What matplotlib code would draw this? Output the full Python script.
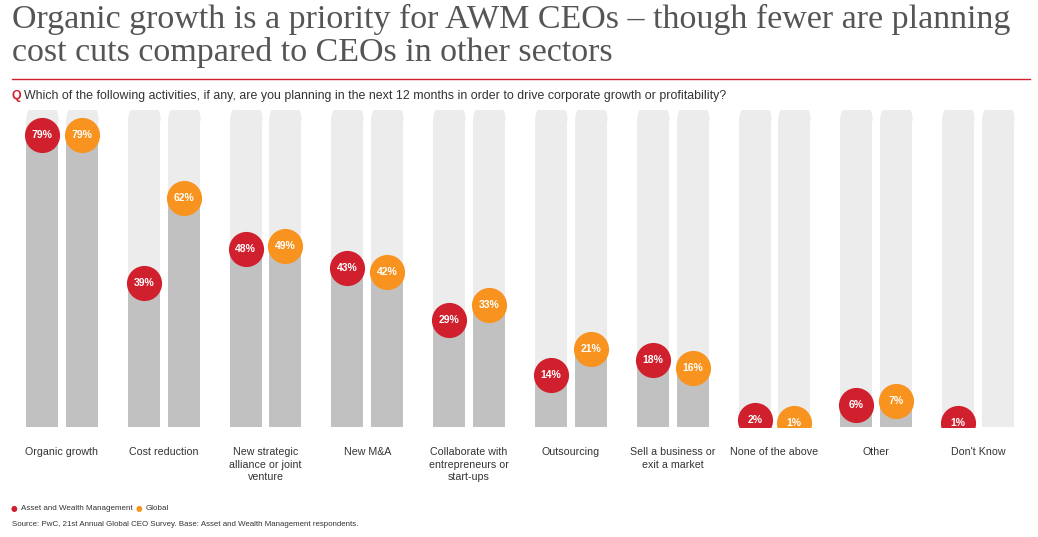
import matplotlib
matplotlib.use("Agg")
import matplotlib.pyplot as plt

categories = ["Organic growth", "Cost reduction", "New strategic\nalliance or joint\nventure", "New M&A",
              "Collaborate with\nentrepreneurs or\nstart-ups", "Outsourcing", "Sell a business or\nexit a market",
              "None of the above", "Other", "Don't Know"]
awm = [79, 39, 48, 43, 29, 14, 18, 2, 6, 1]
glob = [79, 62, 49, 42, 33, 21, 16, 1, 7, None]

RED = "#d0202e"
ORANGE = "#f7931e"
TRACK = "#ececec"
BAR = "#c2c1c2"
TEXT = "#333333"

W, H = 1038, 537
fig = plt.figure(figsize=(W / 100, H / 100), dpi=100)
ax = fig.add_axes([11 / W, (H - 427) / H, 1018 / W, 317 / H])
ax.set_xlim(-0.5, len(categories) - 0.5)
ax.set_ylim(0, 85.7)
ax.axis("off")

bw = 0.314
cap = 83.5
off = 0.195
for i, (a, g) in enumerate(zip(awm, glob)):
    for x, v, col in ((i - off, a, RED), (i + off, g, ORANGE)):
        ax.bar(x, cap, width=bw, color=TRACK, zorder=1)
        ax.scatter(x, cap, s=540, color=TRACK, marker="o", linewidths=0, zorder=1)
        if v is None:
            continue
        ax.bar(x, v, width=bw, color=BAR, zorder=2)
        ax.scatter(x, v, s=640, color=col, linewidths=0, zorder=3)
        ax.text(x, v, f"{v}%", color="white", fontsize=7.5, fontweight="bold",
                ha="center", va="center", zorder=4, family="Liberation Sans")
    ax.text(i, -5.5, categories[i], ha="center", va="top", fontsize=7.7, color=TEXT,
            family="Liberation Sans", linespacing=1.3)

fig.text(12 / W, 1 - 4 / H, "Organic growth is a priority for AWM CEOs \u2013 though fewer are planning\ncost cuts compared to CEOs in other sectors",
         fontsize=24.5, family="Liberation Serif", color="#555555", va="top", linespacing=1.08)
fig.add_artist(plt.Line2D([12 / W, 1030 / W], [1 - 79 / H] * 2, color=RED, lw=1))
fig.text(12 / W, 1 - 96 / H, "Q", fontsize=8.9, fontweight="bold", color=RED, va="center", family="Liberation Sans")
fig.text(24 / W, 1 - 96 / H, "Which of the following activities, if any, are you planning in the next 12 months in order to drive corporate growth or profitability?",
         fontsize=8.9, color=TEXT, va="center", family="Liberation Sans")

fig.text(11 / W, 1 - 508 / H, "\u25cf", color=RED, fontsize=5.5, va="center")
fig.text(21 / W, 1 - 508 / H, "Asset and Wealth Management", color=TEXT, fontsize=5.8, va="center", family="Liberation Sans")
fig.text(136 / W, 1 - 508 / H, "\u25cf", color=ORANGE, fontsize=5.5, va="center")
fig.text(146 / W, 1 - 508 / H, "Global", color=TEXT, fontsize=5.8, va="center", family="Liberation Sans")
fig.text(12 / W, 1 - 524 / H, "Source: PwC, 21st Annual Global CEO Survey. Base: Asset and Wealth Management respondents.",
         color=TEXT, fontsize=5.7, va="center", family="Liberation Sans")

fig.savefig("out.png", dpi=100)
